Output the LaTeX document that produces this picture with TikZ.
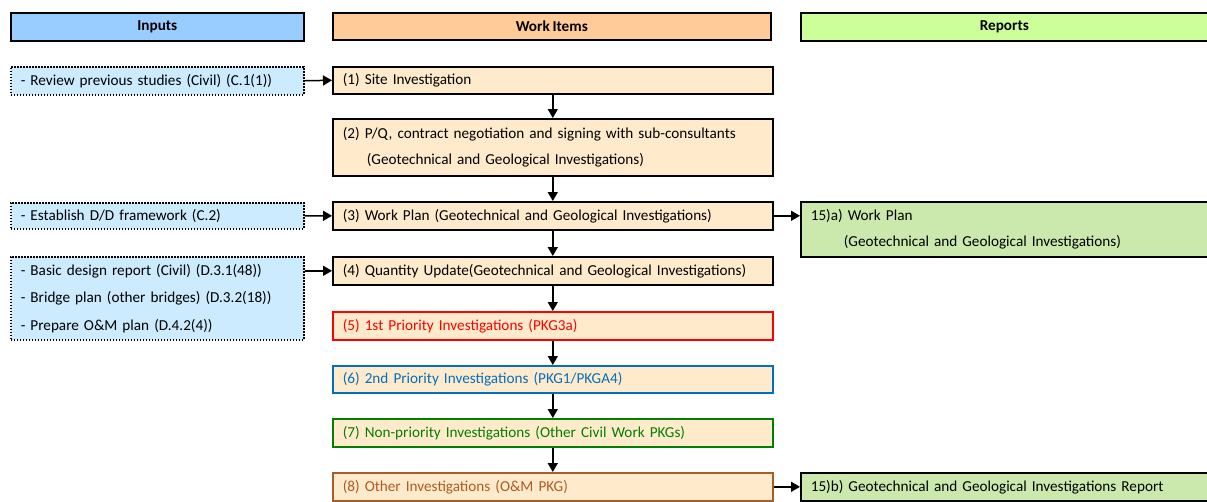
\documentclass[tikz,border=0pt]{standalone}
\usepackage{fontspec}
\setmainfont{Carlito}[WordSpace=0.8]
\usetikzlibrary{arrows.meta}
\definecolor{hdrIn}{HTML}{99CCFF}
\definecolor{hdrWork}{HTML}{FFCC99}
\definecolor{hdrRep}{HTML}{CCFF99}
\definecolor{inFill}{HTML}{CCEBFF}
\definecolor{workFill}{HTML}{FFEBCC}
\definecolor{repFill}{HTML}{CCE9AD}
\definecolor{prioRed}{HTML}{FF0000}
\definecolor{prioBlue}{HTML}{0070C0}
\definecolor{prioGreen}{HTML}{008000}
\definecolor{prioBrown}{HTML}{A85E28}
\definecolor{textBrown}{HTML}{B05A20}
\tikzset{
  basebox/.style={rectangle, draw=black, line width=1.6pt, anchor=north west,
    inner xsep=10pt, inner ysep=0pt, align=left,
    font=\fontsize{15.2}{26}\selectfont},
  header/.style={rectangle, draw=black, line width=1.6pt, anchor=north west,
    inner sep=0pt, align=center, font=\fontsize{15.2}{18}\selectfont\bfseries},
  inbox/.style={basebox, fill=inFill, line width=1.5pt, dash pattern=on 1.6pt off 1.4pt,
    minimum width=293pt, text width=273pt},
  workbox/.style={basebox, fill=workFill, minimum width=440pt, text width=420pt},
  repbox/.style={basebox, fill=repFill, minimum width=420pt, text width=400pt},
  flow/.style={line width=1.5pt, -{Triangle[length=9pt,width=10pt]}}
}
\begin{document}
\begin{tikzpicture}[x=1pt,y=-1pt]
\useasboundingbox (0,0) rectangle (1207,501);
\clip (0,0) rectangle (1207,501);

% column headers
\node[header, fill=hdrIn, minimum width=293pt, minimum height=28pt] (hin) at (10,12) {Inputs};
\node[header, fill=hdrWork, minimum width=438pt, minimum height=27pt] (hwork) at (332,12) {Work Items};
\node[header, fill=hdrRep, minimum width=420pt, minimum height=28pt] (hrep) at (800,12) {\hspace*{-13pt}Reports};

% inputs
\node[inbox, minimum height=28pt] (in1) at (10,66) {- Review previous studies (Civil) (C.1(1))};
\node[inbox, minimum height=26pt] (in2) at (10,202) {- Establish D/D framework (C.2)};
\node[inbox, minimum height=83pt, font=\fontsize{15.2}{27.5}\selectfont] (in3) at (10,256)
  {- Basic design report (Civil) (D.3.1(48))\\- Bridge plan (other bridges) (D.3.2(18))\\- Prepare O\&M plan (D.4.2(4))};

% work items
\node[workbox, minimum height=27pt] (w1) at (332,66) {(1) Site Investigation};
\node[workbox, minimum height=57pt] (w2) at (332,118)
  {(2) P/Q, contract negotiation and signing with sub-consultants\\\hspace*{24pt}(Geotechnical and Geological Investigations)};
\node[workbox, minimum height=28pt] (w3) at (332,201) {(3) Work Plan (Geotechnical and Geological Investigations)};
\node[workbox, minimum height=28pt, minimum width=438pt] (w4) at (332,256) {(4) Quantity Update(Geotechnical and Geological Investigations)};
\node[workbox, minimum height=28pt, minimum width=438pt, draw=prioRed, text=prioRed] (w5) at (332,311) {(5) 1st Priority Investigations (PKG3a)};
\node[workbox, minimum height=27pt, minimum width=438pt, draw=prioBlue, text=prioBlue] (w6) at (332,365) {(6) 2nd Priority Investigations (PKG1/PKGA4)};
\node[workbox, minimum height=28pt, minimum width=438pt, draw=prioGreen, text=prioGreen] (w7) at (332,418) {(7) Non-priority Investigations (Other Civil Work PKGs)};
\node[workbox, minimum height=28pt, draw=prioBrown, text=textBrown] (w8) at (332,472) {(8) Other Investigations (O\&M PKG)};

% reports
\node[repbox, minimum height=55pt] (r1) at (800,201)
  {15)a) Work Plan\\\hspace*{33pt}(Geotechnical and Geological Investigations)};
\node[repbox, minimum height=28pt] (r2) at (800,472) {15)b) Geotechnical and Geological Investigations Report};

% flow between work items
\draw[flow] (w1.south) -- (w2.north);
\draw[flow] (w2.south) -- (w3.north);
\draw[flow] (w3.south) -- (w4.north);
\draw[flow] (w4.south) -- (w5.north);
\draw[flow] (w5.south) -- (w6.north);
\draw[flow] (w6.south) -- (w7.north);
\draw[flow] (w7.south) -- (w8.north);

% inputs into work items
\draw[flow] (in1.east) -- (w1.west);
\draw[flow] (in2.east) -- (w3.west);
\draw[flow] (in3.east |- w4.west) -- (w4.west);

% work items into reports
\draw[flow] (w3.east) -- (w3.east -| r1.west);
\draw[flow] (w8.east) -- (r2.west);
\end{tikzpicture}
\end{document}
